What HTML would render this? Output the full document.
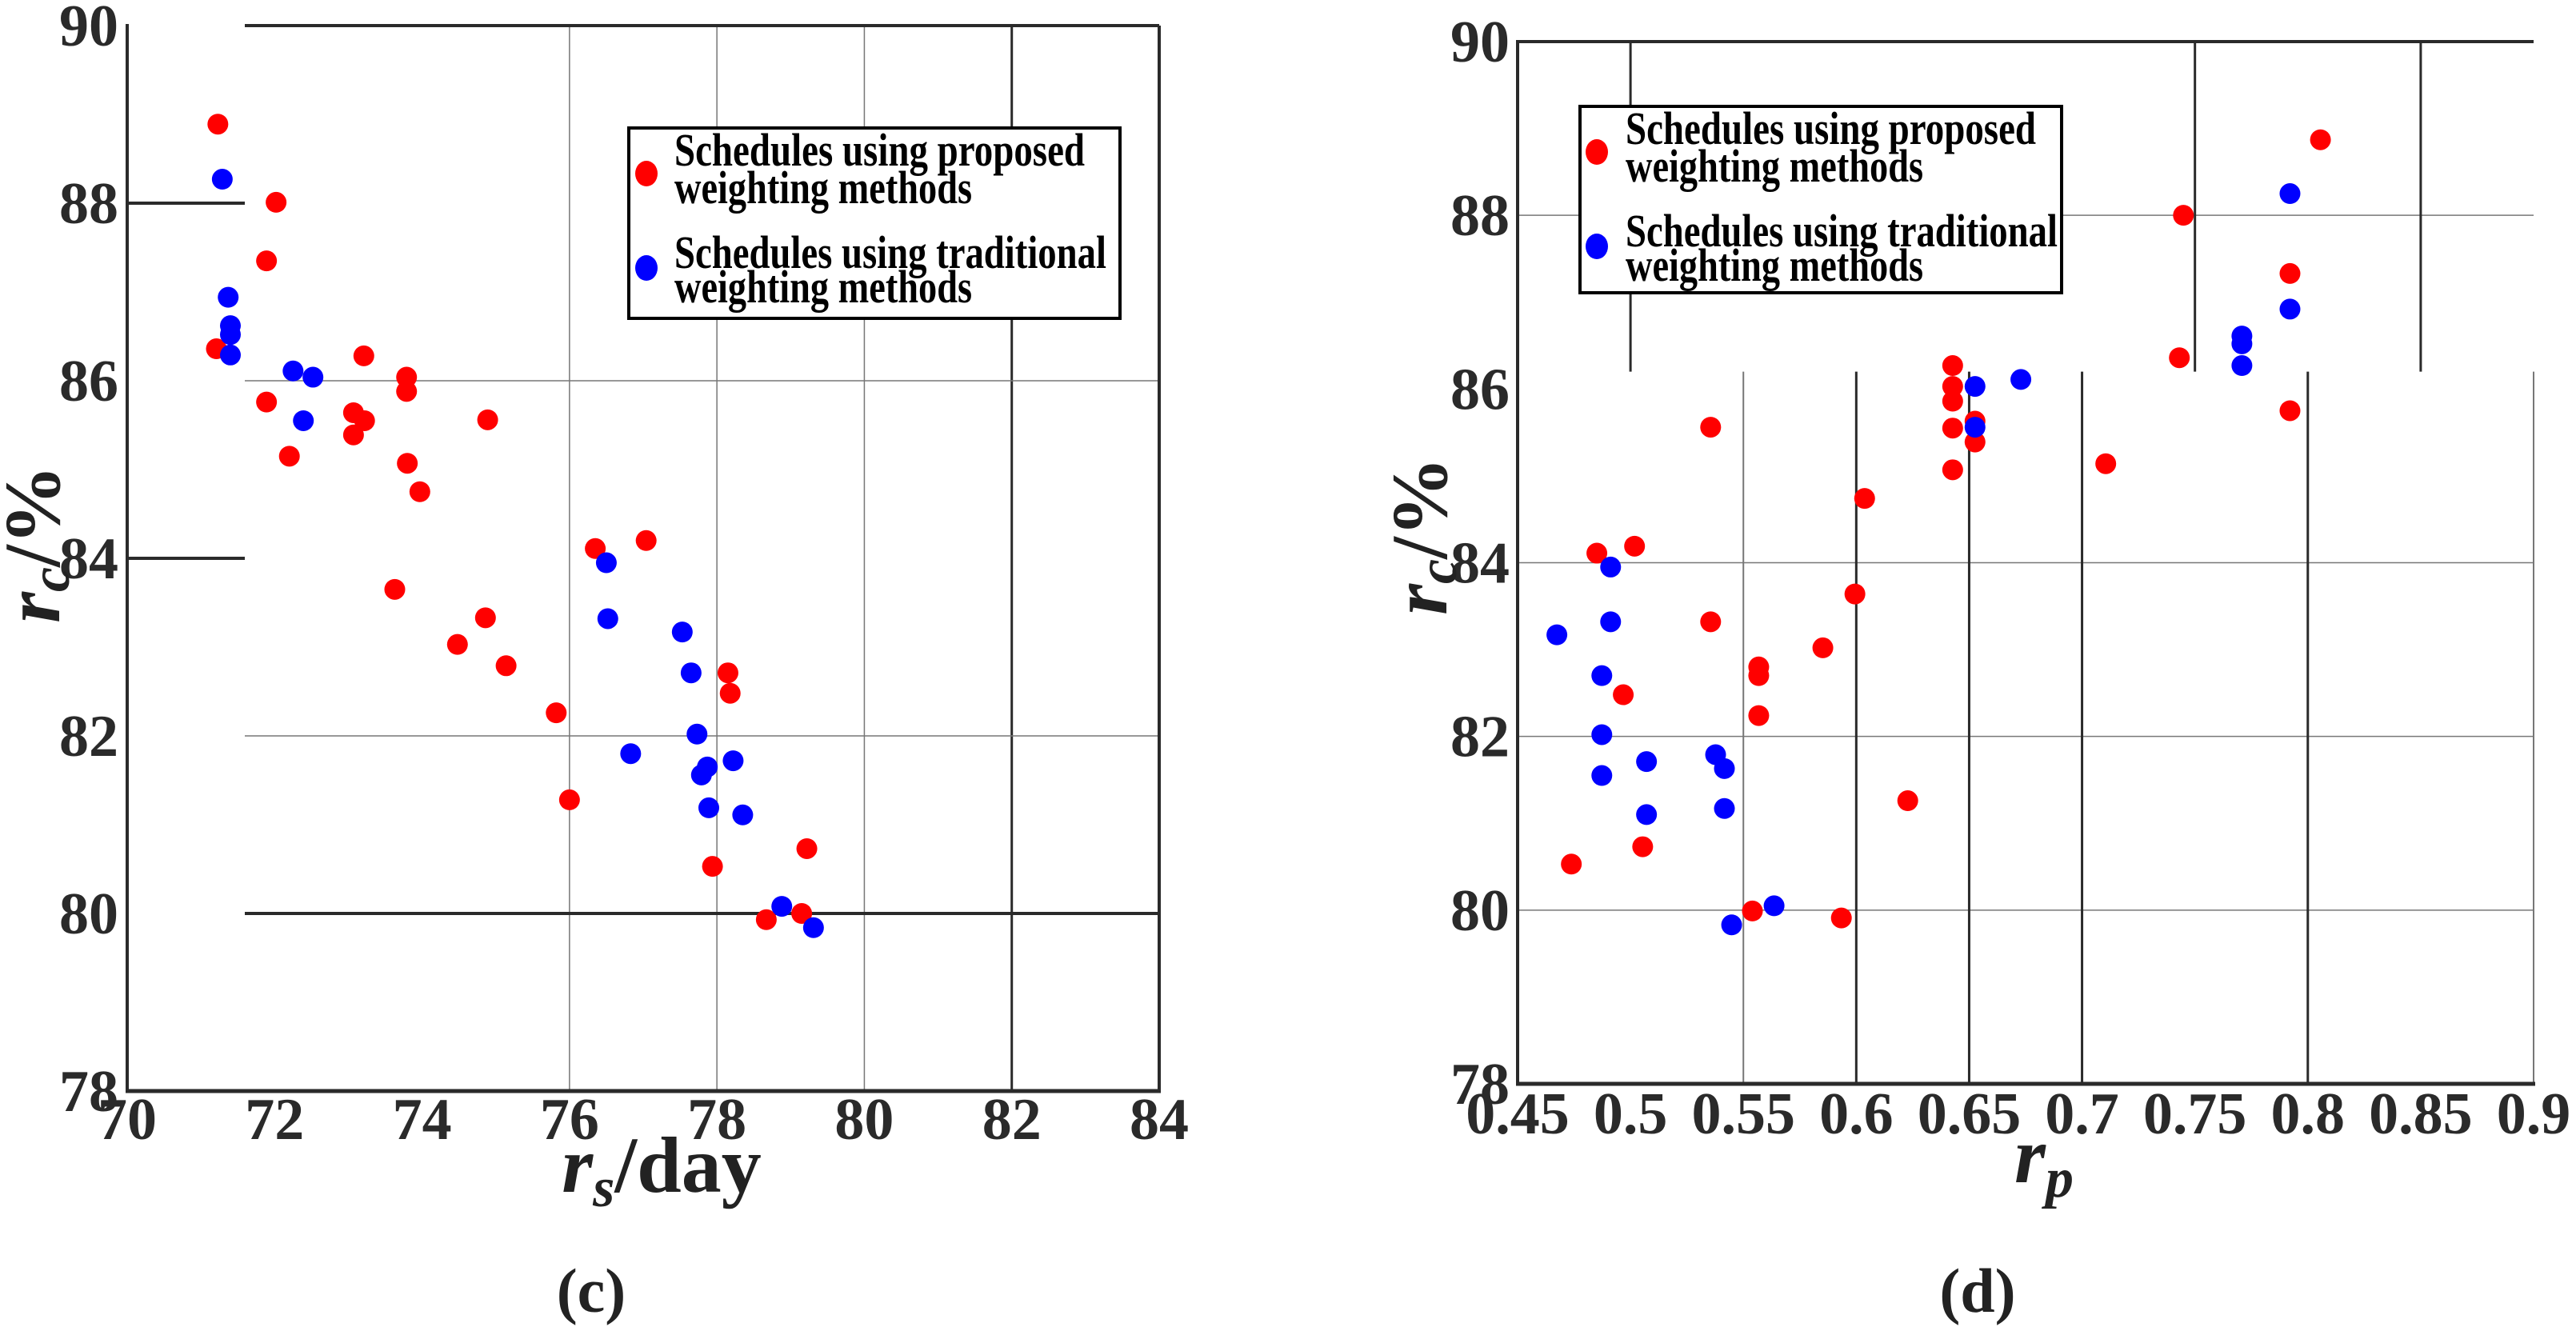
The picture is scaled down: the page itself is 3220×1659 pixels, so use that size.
<!DOCTYPE html>
<html><head><meta charset="utf-8"><style>
html,body{margin:0;padding:0;background:#fff;}
svg{display:block;}
svg text{font-family:"Liberation Serif","DejaVu Serif",serif;}
</style></head><body>
<svg id="svg" width="3220" height="1659" viewBox="0 0 3220 1659" xmlns="http://www.w3.org/2000/svg">
<g id="L"></g>
<g id="R"></g>
<text x="739" y="1640" font-size="78" font-weight="bold" text-anchor="middle" fill="#222">(c)</text>
<text x="2472" y="1640" font-size="78" font-weight="bold" text-anchor="middle" fill="#222">(d)</text>
</svg>
<script>
const cRedX=[71.23,72.02,71.89,71.21,71.89,72.20,73.21,73.07,73.22,73.07,73.79,73.79,73.80,73.97,74.89,73.63,74.48,74.86,75.14,75.82,76.00,76.35,77.04,78.15,78.18,77.94,79.22,78.67,79.15];
const cRedY=[88.89,88.01,87.35,86.36,85.76,85.15,86.28,85.64,85.55,85.39,86.04,85.88,85.07,84.75,85.56,83.65,83.03,83.33,82.79,82.26,81.28,84.11,84.20,82.71,82.48,80.53,80.73,79.93,80.00];
const cBlueX=[71.29,71.37,71.40,71.40,71.40,72.25,72.52,72.39,76.50,76.52,76.83,77.53,77.65,77.73,77.79,77.87,77.89,78.22,78.35,78.88,79.31];
const cBlueY=[88.27,86.94,86.62,86.52,86.29,86.11,86.04,85.55,83.95,83.32,81.80,83.17,82.71,82.02,81.56,81.65,81.19,81.72,81.11,80.08,79.84];
const dRedX=[0.8056,0.7449,0.7921,0.7431,0.7921,0.6427,0.6427,0.6427,0.6427,0.6526,0.6526,0.6427,0.7105,0.5355,0.6037,0.5994,0.5852,0.5568,0.5568,0.5568,0.5355,0.4851,0.5018,0.4968,0.5054,0.4738,0.6228,0.5540,0.5934];
const dRedY=[88.87,88.00,87.33,86.36,85.75,86.27,86.03,85.86,85.55,85.63,85.39,85.07,85.14,85.56,84.74,83.64,83.02,82.80,82.70,82.24,83.32,84.11,84.19,82.48,80.73,80.53,81.26,79.99,79.91];
const dBlueX=[0.7921,0.7921,0.7708,0.7708,0.7708,0.6729,0.6526,0.6526,0.4912,0.4912,0.4674,0.4873,0.4873,0.4873,0.5071,0.5071,0.5377,0.5416,0.5416,0.5636,0.5448];
const dBlueY=[88.25,86.92,86.61,86.52,86.27,86.11,86.03,85.56,83.95,83.32,83.17,82.70,82.02,81.55,81.71,81.10,81.79,81.63,81.17,80.05,79.83];
const cXTicks=["70","72","74","76","78","80","82","84"];
const dXTicks=["0.45","0.5","0.55","0.6","0.65","0.7","0.75","0.8","0.85","0.9"];
const yTicks=["78","80","82","84","86","88","90"];

const NS="http://www.w3.org/2000/svg";
function mk(p,tag,a,txt){const e=document.createElementNS(NS,tag);for(const k in a)e.setAttribute(k,a[k]);if(txt!==undefined)e.textContent=txt;p.appendChild(e);return e;}
function line(p,x1,y1,x2,y2,w,c,name){const e=mk(p,'line',{x1:x1,y1:y1,x2:x2,y2:y2,stroke:c,'stroke-width':w});

return e;}

// chart c
const L=document.getElementById('L');
const cx=v=>159+(v-70)/14*(1449-159);
const cy=v=>32+(90-v)/12*(1364-32);
const D='#2a2a2a',G='#777';
line(L,cx(76),32,cx(76),1364,1.5,G,'grid-x-76');
line(L,cx(78),32,cx(78),1364,1.5,G,'grid-x-78');
line(L,cx(80),32,cx(80),1364,1.5,G,'grid-x-80');
line(L,cx(82),32,cx(82),1364,3,D,'grid-x-82');
line(L,306,cy(86),1449,cy(86),1.5,G,'grid-y-86');
line(L,306,cy(82),1449,cy(82),1.5,G,'grid-y-82');
line(L,306,cy(80),1449,cy(80),4,D,'grid-y-80');
line(L,159,cy(88),306,cy(88),4,D,'tick-y-88');
line(L,159,cy(84),306,cy(84),4,D,'tick-y-84');
line(L,306,32,1449,32,4,D,'frame-top');
line(L,1449,32,1449,1364,4,D,'frame-right');
line(L,159,30,159,1366,4,D,'y-axis');
line(L,157,1364,1451,1364,5,D,'x-axis');
cXTicks.forEach(t=>{const e=mk(L,'text',{x:cx(+t),y:1424,'font-size':74,'font-weight':'bold','text-anchor':'middle',fill:D},t);

});
yTicks.forEach(t=>{const e=mk(L,'text',{x:148,y:cy(+t)+25,'font-size':74,'font-weight':'bold','text-anchor':'end',fill:D},t);

});
cRedX.forEach((v,i)=>{const e=mk(L,'circle',{cx:cx(v),cy:cy(cRedY[i]),r:13,fill:'#ff0000'});

});
cBlueX.forEach((v,i)=>{const e=mk(L,'circle',{cx:cx(v),cy:cy(cBlueY[i]),r:13,fill:'#0000ff'});

});

// chart d
const R=document.getElementById('R');
const dx=v=>1897+(v-0.45)/0.45*(3167-1897);
const dy=v=>52+(90-v)/12*(1355-52);
const yb=dy(86.2);
[80,82,84,88].forEach(v=>line(R,1897,dy(v),3167,dy(v),1.5,G,'grid-y-'+v));
line(R,dx(0.5),52,dx(0.5),yb,3,D,'grid-x-0.5');
line(R,dx(0.75),52,dx(0.75),yb,3,D,'grid-x-0.75');
line(R,dx(0.85),52,dx(0.85),yb,3,D,'grid-x-0.85');
line(R,dx(0.55),yb,dx(0.55),1355,2,G,'grid-x-0.55');
[0.6,0.65,0.7,0.8].forEach(v=>line(R,dx(v),yb,dx(v),1355,3,D,'grid-x-'+v));
line(R,3167,yb,3167,1355,2,G,'frame-right');
line(R,1897,52,3167,52,4,D,'frame-top');
line(R,1897,50,1897,1357,4,D,'y-axis');
line(R,1895,1355,3169,1355,5,D,'x-axis');
dXTicks.forEach(t=>{const e=mk(R,'text',{x:dx(+t),y:1417,'font-size':74,'font-weight':'bold','text-anchor':'middle',fill:D},t);

});
yTicks.forEach(t=>{const e=mk(R,'text',{x:1887,y:dy(+t)+25,'font-size':74,'font-weight':'bold','text-anchor':'end',fill:D},t);

});
dRedX.forEach((v,i)=>{const e=mk(R,'circle',{cx:dx(v),cy:dy(dRedY[i]),r:13,fill:'#ff0000'});

});
dBlueX.forEach((v,i)=>{const e=mk(R,'circle',{cx:dx(v),cy:dy(dBlueY[i]),r:13,fill:'#0000ff'});

});

// legends
function legend(p,x0,y0,x1,y1,tx,mx,name){
 const g=mk(p,'g',{});
 
 
 mk(g,'rect',{x:x0,y:y0,width:x1-x0,height:y1-y0,fill:'#fff',stroke:'#000','stroke-width':4});
 const lines=[["Schedules using proposed",y0+47,513],["weighting methods",y0+94,372],["Schedules using traditional",y0+175,540],["weighting methods",y0+218,372]];
 lines.forEach(l=>mk(g,'text',{x:tx,y:l[1],'font-size':58,'font-weight':'bold',textLength:l[2],lengthAdjust:'spacingAndGlyphs',fill:'#000'},l[0]));
 mk(g,'ellipse',{cx:mx,cy:y0+57,rx:14,ry:16,fill:'#ff0000'});
 mk(g,'ellipse',{cx:mx,cy:y0+175,rx:14,ry:16,fill:'#0000ff'});
}
legend(L,786,160,1400,398,843,808,'legend-c');
legend(R,1975,133,2577,366,2032,1996,'legend-d');

// axis titles
function ytitle(p,x,y,name){const t=mk(p,'text',{transform:`translate(${x},${y}) rotate(-90)`,'font-size':100,'font-weight':'bold','text-anchor':'middle',fill:'#222'});


mk(t,'tspan',{'font-style':'italic'},'r');mk(t,'tspan',{'font-style':'italic','font-size':70,dy:12},'c');mk(t,'tspan',{dy:-12},'/%');}
ytitle(L,74,680,'y-axis-title-c');
ytitle(R,1808,670,'y-axis-title-d');
const xt=mk(L,'text',{x:827,y:1490,'font-size':100,'font-weight':'bold','text-anchor':'middle',fill:'#222'});


mk(xt,'tspan',{'font-style':'italic'},'r');mk(xt,'tspan',{'font-style':'italic','font-size':70,dy:18},'s');mk(xt,'tspan',{dy:-18},'/day');
const xt2=mk(R,'text',{x:2555,y:1478,'font-size':100,'font-weight':'bold','text-anchor':'middle',fill:'#222'});


mk(xt2,'tspan',{'font-style':'italic'},'r');mk(xt2,'tspan',{'font-style':'italic','font-size':70,dy:18},'p');
</script>
</body></html>
